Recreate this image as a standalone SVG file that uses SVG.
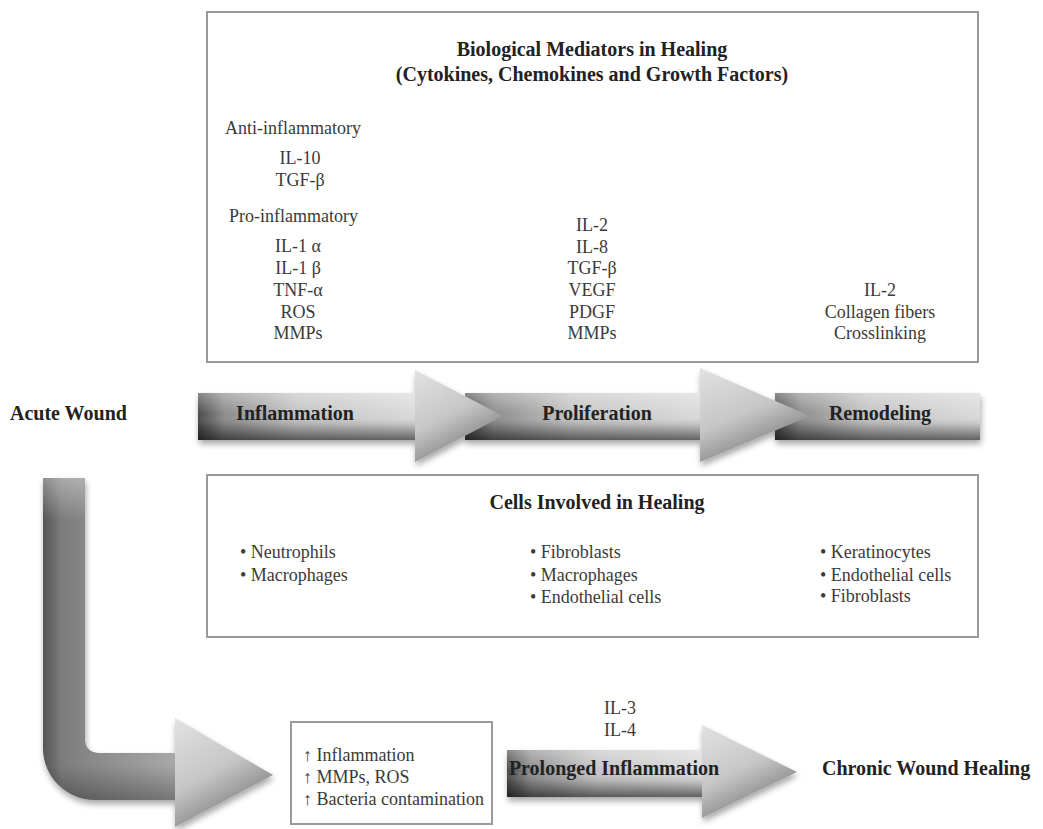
<svg xmlns="http://www.w3.org/2000/svg" width="1043" height="829" viewBox="0 0 1043 829">
<defs>
<style>
.t{font-family:"Liberation Serif","Times New Roman",serif;font-size:18px;fill:#3a3a3a}
.b{font-family:"Liberation Serif","Times New Roman",serif;font-size:20px;font-weight:bold;fill:#222}
.m{text-anchor:middle}
.box{fill:#fff;stroke:#9a9a9a;stroke-width:2}
</style>
<filter id="sh" x="-10%" y="-20%" width="130%" height="160%">
<feGaussianBlur in="SourceAlpha" stdDeviation="3"/>
<feOffset dx="1" dy="4" result="o"/>
<feComponentTransfer><feFuncA type="linear" slope="0.35"/></feComponentTransfer>
<feMerge><feMergeNode/><feMergeNode in="SourceGraphic"/></feMerge>
</filter>
<linearGradient id="barH" x1="0" y1="0" x2="1" y2="0">
<stop offset="0" stop-color="#4a4a4a"/>
<stop offset="0.12" stop-color="#8c8c8c"/>
<stop offset="0.45" stop-color="#c4c4c4"/>
<stop offset="1" stop-color="#dadada"/>
</linearGradient>
<linearGradient id="barV" x1="0" y1="0" x2="0" y2="1">
<stop offset="0" stop-color="#fff" stop-opacity="0.35"/>
<stop offset="0.45" stop-color="#fff" stop-opacity="0"/>
<stop offset="0.7" stop-color="#000" stop-opacity="0.15"/>
<stop offset="1" stop-color="#000" stop-opacity="0.55"/>
</linearGradient>
<linearGradient id="headG" x1="0" y1="0" x2="0.5" y2="1">
<stop offset="0" stop-color="#e2e2e2"/>
<stop offset="0.55" stop-color="#c6c6c6"/>
<stop offset="1" stop-color="#7a7a7a"/>
</linearGradient>
<linearGradient id="lG" gradientUnits="userSpaceOnUse" x1="43" y1="0" x2="273" y2="0">
<stop offset="0" stop-color="#555"/>
<stop offset="0.08" stop-color="#7c7c7c"/>
<stop offset="0.18" stop-color="#868686"/>
<stop offset="0.57" stop-color="#a8a8a8"/>
<stop offset="1" stop-color="#dcdcdc"/>
</linearGradient>
<linearGradient id="lTop" gradientUnits="userSpaceOnUse" x1="0" y1="478" x2="0" y2="520">
<stop offset="0" stop-color="#fff" stop-opacity="0.35"/>
<stop offset="1" stop-color="#fff" stop-opacity="0"/>
</linearGradient>
<linearGradient id="lBot" gradientUnits="userSpaceOnUse" x1="0" y1="765" x2="0" y2="800">
<stop offset="0" stop-color="#000" stop-opacity="0"/>
<stop offset="1" stop-color="#000" stop-opacity="0.3"/>
</linearGradient>
</defs>
<rect width="1043" height="829" fill="#fff"/>

<g id="mediators">
<rect class="box" x="207" y="12" width="771" height="350"/>
<text class="b m" x="592" y="56">Biological Mediators in Healing</text>
<text class="b m" x="592" y="81">(Cytokines, Chemokines and Growth Factors)</text>
<text class="t" x="225" y="134">Anti-inflammatory</text>
<text class="t m" x="300" y="164">IL-10</text>
<text class="t m" x="300" y="186">TGF-β</text>
<text class="t" x="229" y="222">Pro-inflammatory</text>
<text class="t m" x="298" y="252">IL-1 α</text>
<text class="t m" x="298" y="274">IL-1 β</text>
<text class="t m" x="298" y="296">TNF-α</text>
<text class="t m" x="298" y="318">ROS</text>
<text class="t m" x="298" y="339">MMPs</text>
<text class="t m" x="592" y="231">IL-2</text>
<text class="t m" x="592" y="253">IL-8</text>
<text class="t m" x="592" y="274">TGF-β</text>
<text class="t m" x="592" y="296">VEGF</text>
<text class="t m" x="592" y="318">PDGF</text>
<text class="t m" x="592" y="339">MMPs</text>
<text class="t m" x="880" y="296">IL-2</text>
<text class="t m" x="880" y="318">Collagen fibers</text>
<text class="t m" x="880" y="339">Crosslinking</text>
</g>

<g id="acute-wound">
<text class="b" x="10" y="420">Acute Wound</text>
</g>

<g id="phase-arrows" filter="url(#sh)">
<g id="remodeling">
<rect x="775" y="393" width="205" height="47" fill="url(#barH)"/>
<rect x="775" y="393" width="205" height="47" fill="url(#barV)"/>
</g>
<g id="proliferation">
<rect x="465" y="393" width="236" height="47" fill="url(#barH)"/>
<rect x="465" y="393" width="236" height="47" fill="url(#barV)"/>
<polygon points="700,368 810,416 700,462" fill="url(#headG)"/>
</g>
<g id="inflammation">
<rect x="198" y="393" width="218" height="47" fill="url(#barH)"/>
<rect x="198" y="393" width="218" height="47" fill="url(#barV)"/>
<polygon points="415,370 503,416 415,462" fill="url(#headG)"/>
</g>
</g>
<text class="b m" x="295" y="420">Inflammation</text>
<text class="b m" x="597" y="420">Proliferation</text>
<text class="b m" x="880" y="420">Remodeling</text>

<g id="cells">
<rect class="box" x="207" y="475" width="771" height="162"/>
<text class="b m" x="597" y="509">Cells Involved in Healing</text>
<text class="t" x="240" y="558">• Neutrophils</text>
<text class="t" x="240" y="581">• Macrophages</text>
<text class="t" x="530" y="558">• Fibroblasts</text>
<text class="t" x="530" y="581">• Macrophages</text>
<text class="t" x="530" y="603">• Endothelial cells</text>
<text class="t" x="820" y="558">• Keratinocytes</text>
<text class="t" x="820" y="581">• Endothelial cells</text>
<text class="t" x="820" y="602">• Fibroblasts</text>
</g>

<g id="connectors">
<g id="to-chronic" filter="url(#sh)">
<path d="M43,478 H85 V738 Q85,753 100,753 H176 V800 H95 A52,52 0 0 1 43,748 Z" fill="url(#lG)"/>
<path d="M43,478 H85 V520 H43 Z" fill="url(#lTop)"/>
<path d="M43,478 H85 V738 Q85,753 100,753 H176 V800 H95 A52,52 0 0 1 43,748 Z" fill="url(#lBot)"/>
<polygon points="175,718 273,775 175,827" fill="url(#headG)"/>
</g>
<g id="prolonged" filter="url(#sh)">
<rect x="507" y="750" width="196" height="47" fill="url(#barH)"/>
<rect x="507" y="750" width="196" height="47" fill="url(#barV)"/>
<polygon points="702,725 797,772 702,818" fill="url(#headG)"/>
</g>
</g>

<g id="conditions">
<rect class="box" x="291" y="722" width="201" height="102"/>
<text class="t" x="303" y="761">↑ Inflammation</text>
<text class="t" x="303" y="783">↑ MMPs, ROS</text>
<text class="t" x="303" y="805">↑ Bacteria contamination</text>
</g>

<g id="prolonged-label">
<text class="t m" x="620" y="714">IL-3</text>
<text class="t m" x="620" y="736">IL-4</text>
<text class="b m" x="614" y="775">Prolonged Inflammation</text>
</g>

<g id="chronic">
<text class="b" x="822" y="775">Chronic Wound Healing</text>
</g>
</svg>
